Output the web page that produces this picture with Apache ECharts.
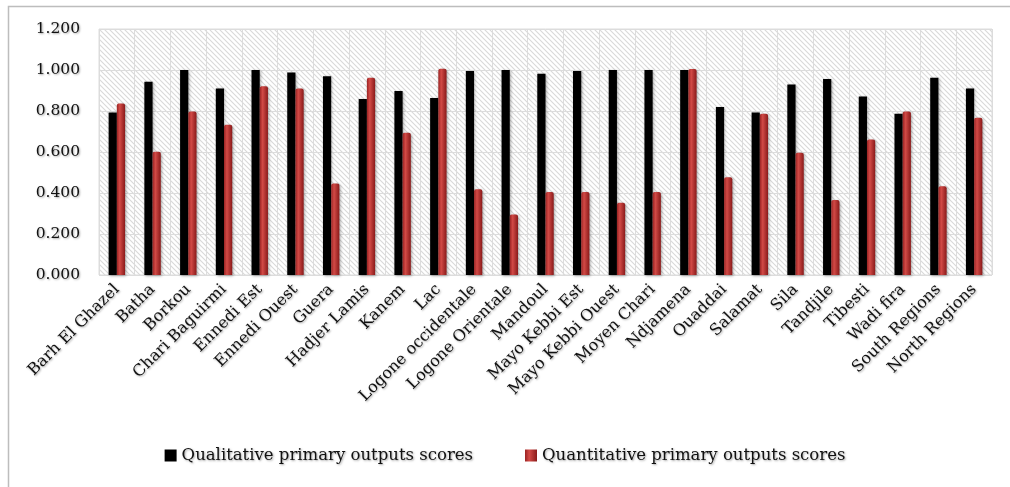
<!DOCTYPE html>
<html>
<head>
<meta charset="utf-8">
<title>Primary outputs scores by region</title>
<script src="https://cdn.jsdelivr.net/npm/echarts@6/dist/echarts.min.js"></script>
<style>
  html, body { margin: 0; padding: 0; background: #fff; }
  #chart { width: 1010px; height: 487px; }
</style>
</head>
<body>
<div id="chart"></div>
<script>
// Regions of Chad
const regions = [
  'Barh El Ghazel', 'Batha', 'Borkou', 'Chari Baguirmi', 'Ennedi Est', 'Ennedi Ouest',
  'Guera', 'Hadjer Lamis', 'Kanem', 'Lac', 'Logone occidentale', 'Logone Orientale',
  'Mandoul', 'Mayo Kebbi Est', 'Mayo Kebbi Ouest', 'Moyen Chari', 'Ndjamena', 'Ouaddai',
  'Salamat', 'Sila', 'Tandjile', 'Tibesti', 'Wadi fira', 'South Regions', 'North Regions'
];

const qualitativeScores = [
  0.793, 0.943, 1.000, 0.910, 1.000, 0.988,
  0.969, 0.858, 0.897, 0.863, 0.995, 1.000,
  0.982, 0.995, 1.000, 1.000, 1.000, 0.819,
  0.793, 0.929, 0.956, 0.871, 0.786, 0.962, 0.910
];

const quantitativeScores = [
  0.837, 0.601, 0.798, 0.733, 0.921, 0.910,
  0.446, 0.962, 0.694, 1.006, 0.418, 0.295,
  0.405, 0.405, 0.353, 0.405, 1.005, 0.477,
  0.786, 0.596, 0.366, 0.661, 0.798, 0.433, 0.767
];

const yTicks = [0, 0.2, 0.4, 0.6, 0.8, 1.0, 1.2];

// Diagonal hatch tile for the plot background
function hatchTile() {
  const size = 5;
  const c = document.createElement('canvas');
  c.width = size; c.height = size;
  const ctx = c.getContext('2d');
  ctx.fillStyle = '#ffffff';
  ctx.fillRect(0, 0, size, size);
  ctx.strokeStyle = '#d9d9d9';
  ctx.lineWidth = 1.1;
  ctx.beginPath();
  for (let k = -size; k <= size; k += size) {
    ctx.moveTo(k - 1, -1);
    ctx.lineTo(k + size + 1, size + 1);
  }
  ctx.stroke();
  return c;
}

const serif = '"DejaVu Serif", "Liberation Serif", serif';
const textShadow = {
  textShadowColor: 'rgba(0,0,0,0.35)',
  textShadowBlur: 2,
  textShadowOffsetX: 1,
  textShadowOffsetY: 1
};

const redFill = new echarts.graphic.LinearGradient(0, 0, 1, 0, [
  { offset: 0, color: '#9a2222' },
  { offset: 0.35, color: '#d24a46' },
  { offset: 1, color: '#8a1a1a' }
]);

const chart = echarts.init(document.getElementById('chart'), null, { renderer: 'canvas' });

chart.setOption({
  animation: false,
  backgroundColor: '#ffffff',
  graphic: [{
    type: 'rect',
    left: 6, top: 4,
    shape: { width: 1020, height: 482 },
    style: { fill: 'none', stroke: '#bdbdbd', lineWidth: 1.5 },
    silent: true,
    z: -1
  }],
  grid: {
    left: 99, right: 18, top: 29, bottom: 212,
    show: true,
    backgroundColor: { image: hatchTile(), repeat: 'repeat' },
    borderColor: '#dcdcdc',
    borderWidth: 1
  },
  legend: {
    bottom: 18,
    left: 'center',
    itemWidth: 12,
    itemHeight: 12,
    itemGap: 52,
    icon: 'rect',
    textStyle: Object.assign({ fontFamily: serif, fontSize: 16.5, color: '#111' }, textShadow),
    data: ['Qualitative primary outputs scores', 'Quantitative primary outputs scores']
  },
  xAxis: {
    type: 'category',
    data: regions,
    axisLine: { show: false },
    axisTick: { show: false },
    splitLine: { show: true, lineStyle: { color: '#dcdcdc', width: 1 } },
    axisLabel: Object.assign({
      rotate: 45,
      interval: 0,
      margin: 12,
      fontFamily: serif,
      fontSize: 16,
      color: '#111'
    }, textShadow)
  },
  yAxis: {
    type: 'value',
    min: yTicks[0],
    max: yTicks[yTicks.length - 1],
    interval: yTicks[1] - yTicks[0],
    axisLine: { show: false },
    axisTick: { show: false },
    splitLine: { show: true, lineStyle: { color: '#dcdcdc', width: 1 } },
    axisLabel: Object.assign({
      margin: 19,
      fontFamily: serif,
      fontSize: 15.5,
      color: '#111',
      formatter: v => v.toFixed(3)
    }, textShadow)
  },
  series: [
    {
      name: 'Qualitative primary outputs scores',
      type: 'bar',
      data: qualitativeScores,
      barWidth: '23%',
      barGap: '0%',
      itemStyle: {
        color: '#000000',
        shadowColor: 'rgba(0,0,0,0.35)',
        shadowBlur: 3,
        shadowOffsetX: 1,
        shadowOffsetY: 1
      }
    },
    {
      name: 'Quantitative primary outputs scores',
      type: 'bar',
      data: quantitativeScores,
      barWidth: '23%',
      barGap: '0%',
      itemStyle: {
        color: redFill,
        borderRadius: [2, 2, 0, 0],
        shadowColor: 'rgba(0,0,0,0.35)',
        shadowBlur: 3,
        shadowOffsetX: 1,
        shadowOffsetY: 1
      }
    }
  ]
});
</script>
</body>
</html>
